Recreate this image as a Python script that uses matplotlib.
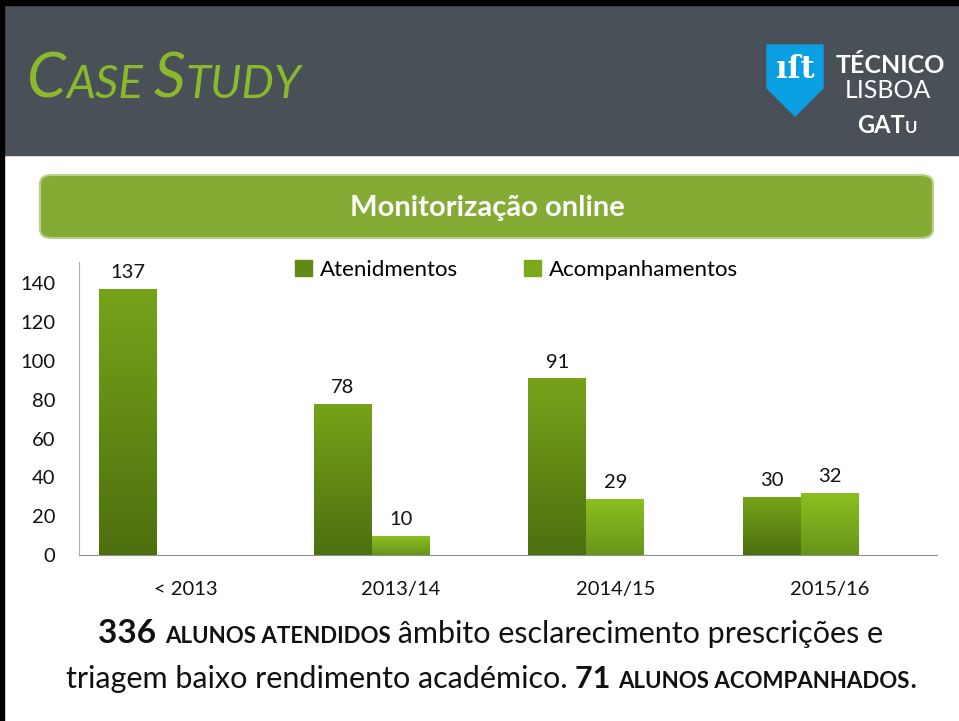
import matplotlib
matplotlib.use('Agg')
import matplotlib.pyplot as plt
import numpy as np
from matplotlib.patches import FancyBboxPatch, Rectangle, Polygon
from matplotlib.colors import LinearSegmentedColormap

categories = ['< 2013', '2013/14', '2014/15', '2015/16']
atendimentos = [137, 78, 91, 30]
acompanhamentos = [None, 10, 29, 32]
yticks = [0, 20, 40, 60, 80, 100, 120, 140]

W, H = 959, 721
fig = plt.figure(figsize=(W / 100, H / 100), dpi=100)
plt.rcParams['font.family'] = ['Lato', 'DejaVu Sans']


def px(x, y):
    # pixel coords (top-left origin) -> figure fraction
    return x / W, 1 - y / H


# header
fig.patches.append(Rectangle(px(0, 155), 1, 150 / H, transform=fig.transFigure,
                             color='#495057', zorder=0))
fig.patches.append(Rectangle((0, 0), 4 / W, 1, transform=fig.transFigure,
                             color='black', zorder=1))
fig.patches.append(Rectangle(px(0, 5), 1, 5 / H, transform=fig.transFigure,
                             color='black', zorder=1))

renderer = fig.canvas.get_renderer()


def runs(parts, x, y, ha='left'):
    # draw a sequence of (text, size, weight, style) pieces on one baseline
    widths = []
    for s, size, weight, style, color in parts:
        t = fig.text(0, 0, s, fontsize=size, fontweight=weight, fontstyle=style)
        widths.append(t.get_window_extent(renderer).width)
        t.remove()
    total = sum(widths)
    cx = x - total / 2 if ha == 'center' else x
    for (s, size, weight, style, color), w in zip(parts, widths):
        fig.text(cx / W, 1 - y / H, s, fontsize=size, fontweight=weight,
                 fontstyle=style, color=color, va='baseline', ha='left')
        cx += w


g = '#8cb82c'
runs([('C', 45, 'normal', 'italic', g), ('ASE ', 33, 'normal', 'italic', g),
      ('S', 45, 'normal', 'italic', g), ('TUDY', 33, 'normal', 'italic', g)], 27, 98)

# logo
shield = Polygon([px(767, 45), px(823, 45), px(823, 88), px(795, 116), px(767, 88)],
                 closed=True, transform=fig.transFigure, color='#0a9fe0', zorder=2)
fig.patches.append(shield)
fig.text(*px(795, 70), 'ıſt', color='white', fontsize=22, fontweight='bold',
         ha='center', va='center', family=['DejaVu Serif'], zorder=3)
fig.text(*px(890, 73), 'TÉCNICO', color='white', fontsize=18, fontweight='bold',
         ha='center', va='baseline')
fig.text(*px(888, 98), 'LISBOA', color='white', fontsize=18, fontweight='normal',
         ha='center', va='baseline')
runs([('GAT', 17, 'bold', 'normal', 'white'), ('U', 12, 'bold', 'normal', 'white')],
     887, 133, ha='center')

# banner
fig.patches.append(FancyBboxPatch(px(40, 238), 893 / W, 63 / H,
                                  boxstyle='round,pad=0,rounding_size=0.012',
                                  transform=fig.transFigure, facecolor='#84ab33',
                                  edgecolor='#b8d08a', linewidth=1.5))
fig.text(*px(487, 208), 'Monitorização online', color='white', fontsize=21,
         fontweight='bold', ha='center', va='center')

# chart
ax = fig.add_axes([79 / W, 166 / H, 858 / W, 293 / H])
x = np.arange(len(categories))
w = 0.27
b1 = ax.bar(x - w, atendimentos, w, color='#5f8a15', zorder=2)
vals2 = [v if v is not None else 0 for v in acompanhamentos]
b2 = ax.bar(x, vals2, w, color='#7aaa1c', zorder=2)


def gradient(bars, top, bottom):
    grad = np.linspace(0, 1, 100).reshape(-1, 1)
    cmap = LinearSegmentedColormap.from_list('g', [bottom, top])
    for p in bars:
        if p.get_height() <= 0:
            continue
        x0, y0 = p.get_x(), p.get_y()
        im = ax.imshow(grad, extent=[x0, x0 + p.get_width(), y0, y0 + p.get_height()],
                       origin='lower', cmap=cmap, aspect='auto', zorder=3)
        im.set_clip_path(p)


gradient(b1, '#76a31a', '#4c700f')
gradient(b2, '#8cc020', '#67951a')

for p, v in zip(b1, atendimentos):
    ax.text(p.get_x() + p.get_width() / 2, v + 4, str(v), ha='center', va='bottom',
            fontsize=14.5, color='#111111')
for p, v in zip(b2, acompanhamentos):
    if v is not None:
        ax.text(p.get_x() + p.get_width() / 2, v + 4, str(v), ha='center', va='bottom',
                fontsize=14.5, color='#111111')

ax.set_xlim(-0.5, 3.5)
ax.set_ylim(0, 151)
ax.set_yticks(yticks)
ax.set_xticks(x)
ax.set_xticklabels(categories)
ax.tick_params(axis='both', length=0, labelsize=14.5, colors='#111111')
ax.tick_params(axis='y', pad=17)
ax.tick_params(axis='x', pad=19)
for s in ['top', 'right']:
    ax.spines[s].set_visible(False)
ax.spines['left'].set_color('#b0b0b0')
ax.spines['bottom'].set_color('#909090')

handles = [Rectangle((0, 0), 1, 1, color='#5f8a15'), Rectangle((0, 0), 1, 1, color='#7aaa1c')]
fig.legend(handles, ['Atenidmentos', 'Acompanhamentos'], loc='center left',
           bbox_to_anchor=px(275, 270), ncol=2, frameon=False, fontsize=16,
           handlelength=0.75, handleheight=0.75, handletextpad=0.35, columnspacing=3.0)

# bottom text
k = '#111111'
runs([('336 ', 24, 'bold', 'normal', k), ('ALUNOS ATENDIDOS', 16, 'bold', 'normal', k),
      (' âmbito esclarecimento prescrições e', 22, 'normal', 'normal', k)], 491, 643, ha='center')
runs([('triagem baixo rendimento académico. ', 22, 'normal', 'normal', k),
      ('71 ', 22, 'bold', 'normal', k), ('ALUNOS ACOMPANHADOS', 16, 'bold', 'normal', k),
      ('.', 22, 'normal', 'normal', k)], 491, 688, ha='center')

plt.savefig('out.png', dpi=100)
